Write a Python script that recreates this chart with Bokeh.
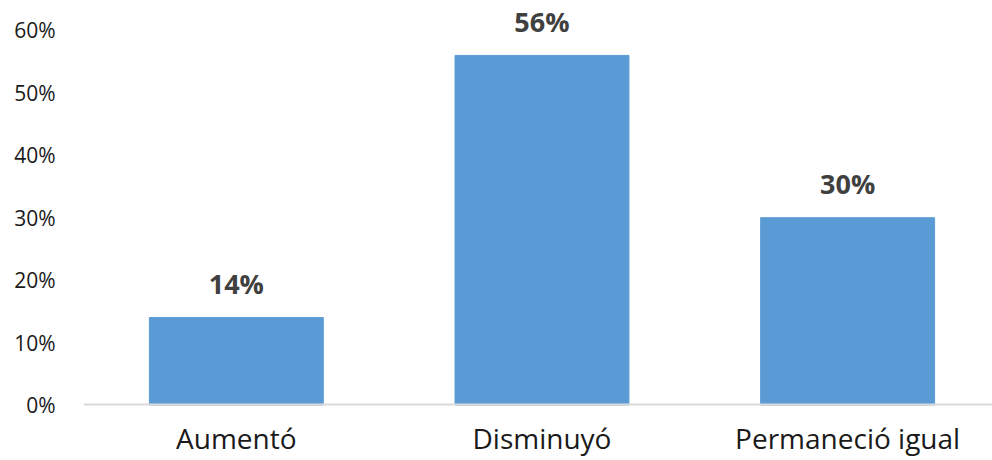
from bokeh.plotting import figure
from bokeh.models import Range1d, FixedTicker, NumeralTickFormatter, ColumnDataSource
from bokeh.core.properties import value
from bokeh.embed import file_html
from bokeh.resources import INLINE

categories = ["Aumentó", "Disminuyó", "Permaneció igual"]
values = [0.14, 0.56, 0.30]
value_labels = ["14%", "56%", "30%"]
y_ticks = [0.0, 0.1, 0.2, 0.3, 0.4, 0.5, 0.6]

centers = [i + 0.5 for i in range(len(categories))]
src = ColumnDataSource(dict(x=centers, top=values, label=value_labels))

p = figure(width=992, height=460, output_backend="svg", toolbar_location=None,
           x_range=Range1d(0, 2.974), y_range=Range1d(-0.089, 0.648),
           min_border_left=83, min_border_right=0, min_border_top=0, min_border_bottom=0)
p.outline_line_color = None
p.xgrid.grid_line_color = None
p.ygrid.grid_line_color = None

p.vbar(x="x", top="top", width=0.569, bottom=0, source=src, color="#5B9BD5")
p.text(x="x", y="top", text="label", source=src, text_align="center",
       text_baseline="alphabetic", y_offset=-34, text_font=value("Open Sans"),
       text_font_style="bold", text_font_size="27px", text_color="#404040")

p.yaxis.ticker = FixedTicker(ticks=y_ticks)
p.yaxis.formatter = NumeralTickFormatter(format="0%")
p.yaxis.axis_line_color = None
p.yaxis.major_tick_line_color = None
p.yaxis.minor_tick_line_color = None
p.yaxis.major_label_standoff = 22
p.yaxis.major_label_text_font = "Open Sans"
p.yaxis.major_label_text_font_size = "21px"
p.yaxis.major_label_text_color = "#1a1a1a"

p.xaxis.fixed_location = 0
p.xaxis.ticker = FixedTicker(ticks=centers)
p.xaxis.major_label_overrides = {c: n for c, n in zip(centers, categories)}
p.xaxis.axis_line_color = "#D9D9D9"
p.xaxis.axis_line_width = 2
p.xaxis.major_tick_line_color = None
p.xaxis.minor_tick_line_color = None
p.xaxis.major_label_standoff = 8
p.xaxis.major_label_text_font = "Open Sans"
p.xaxis.major_label_text_font_size = "28px"
p.xaxis.major_label_text_color = "#1a1a1a"

open("out.html", "w").write(file_html(p, INLINE))
